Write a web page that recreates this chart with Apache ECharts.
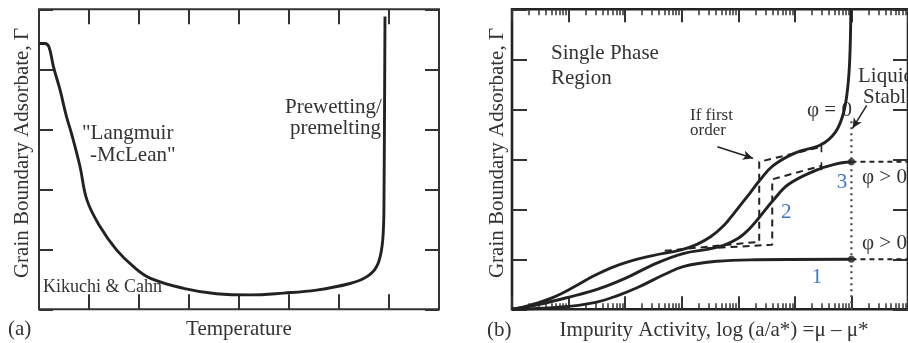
<!DOCTYPE html>
<html><head><meta charset="utf-8">
<script src="https://cdn.jsdelivr.net/npm/echarts@6/dist/echarts.min.js"></script>
<style>html,body{margin:0;padding:0;background:#fff}#c{width:908px;height:343px}</style>
</head><body><div id="c"></div>
<script>
// ---------- Panel (a): adsorbate vs temperature ----------
const tempRange = [0, 8];          // temperature axis (arbitrary units, ticks every 1)
const adsRangeA = [0, 5];          // adsorbate axis (a)
const langmuirCurve = [[0,4.43],[0.12,4.43],[0.2,4.37],[0.29,4.04],[0.42,3.66],[0.55,3.21],[0.65,2.93],[0.82,2.38],[0.96,1.82],[1.22,1.38],[1.55,0.99],[1.89,0.71],[2.22,0.52],[2.89,0.35],[3.55,0.26],[4.22,0.24],[4.89,0.27],[5.55,0.32],[6.22,0.43],[6.55,0.54],[6.75,0.71],[6.85,0.99],[6.89,1.38],[6.9,1.82],[6.92,4.88]];

// ---------- Panel (b): adsorbate vs log activity (decades) ----------
const decadeRange = [0, 7];
const adsRangeB = [0, 6];
const minorMultipliers = [2,3,4,5,6,7,8,9];
const phi0Curve = [[0,0],[0.31,0.08],[0.73,0.24],[1.1,0.45],[1.43,0.66],[1.75,0.83],[2.05,0.95],[2.47,1.07],[2.99,1.19],[3.27,1.3],[3.51,1.45],[3.74,1.67],[3.91,1.9],[4.21,2.33],[4.38,2.58],[4.61,2.87],[5.01,3.13],[5.46,3.29],[5.72,3.55],[5.86,3.93],[5.93,4.39],[5.97,4.99],[5.99,6.0]];
const curve3 = [[0,0],[0.49,0.1],[1.03,0.25],[1.53,0.41],[2.0,0.62],[2.57,0.93],[3.04,1.12],[3.45,1.2],[3.74,1.28],[4.0,1.42],[4.19,1.6],[4.38,1.85],[4.61,2.17],[4.89,2.5],[5.37,2.78],[5.7,2.9],[6.0,2.95]];
const curve1 = [[0,0],[0.83,0.04],[1.48,0.14],[1.88,0.28],[2.23,0.44],[2.7,0.7],[3.04,0.86],[3.62,0.96],[4.31,0.99],[6.0,1.0]];
const firstOrderA = [[2.7,1.17],[4.37,1.35],[4.37,2.95],[5.47,3.25]];
const firstOrderB = [[3.44,1.22],[4.6,1.29],[4.6,2.6],[5.47,2.87]];
const rejoinA = [[5.47,3.33],[5.47,3.14]];
const rejoinB = [[5.47,2.94],[5.47,2.78]];
const liquidBoundary = [[6,0],[6,3.78]];
const phiPosUpper = [[6,2.95],[7,2.95]];
const phiPosLower = [[6,1.0],[7,1.0]];
const endDots = [[6,2.95],[6,1.0]];
const arrowFirstOrder = [[3.63,3.25],[4.26,3.02]];
const arrowLiquid = [[6.27,4.08],[6.02,3.62]];

const minorTicks = [];
for (let d = decadeRange[0]; d < decadeRange[1]; d++) {
  minorMultipliers.forEach(m => minorTicks.push(+(d + Math.log10(m)).toFixed(4)));
}

const INK = '#222';
const BOX = '#333';
const TXT = '#333';
const BLUE = '#3b78c2';
const SERIF = '"Liberation Serif","Times New Roman",serif';

function xAx(grid, pos, range, len, width, custom) {
  const a = {
    type: 'value', gridIndex: grid, position: pos, min: range[0], max: range[1], interval: 1,
    axisLine: {show: false, onZero: false}, axisLabel: {show: false}, splitLine: {show: false},
    axisTick: {show: true, inside: true, length: len, lineStyle: {color: BOX, width: width}}
  };
  if (custom) a.axisTick.customValues = custom;
  return a;
}
function yAx(grid, pos, range, len, width) {
  return {
    type: 'value', gridIndex: grid, position: pos, min: range[0], max: range[1], interval: 1,
    axisLine: {show: false, onZero: false}, axisLabel: {show: false}, splitLine: {show: false},
    axisTick: {show: true, inside: true, length: len, lineStyle: {color: BOX, width: width}}
  };
}
function curve(data, xi, yi, extra) {
  return Object.assign({
    type: 'line', data: data, xAxisIndex: xi, yAxisIndex: yi, showSymbol: false, symbol: 'none',
    smooth: 0.4, silent: true, animation: false,
    lineStyle: {color: INK, width: 2.9}
  }, extra || {});
}
function seg(data, type, width, extra) {
  return Object.assign({
    type: 'line', data: data, xAxisIndex: 2, yAxisIndex: 2, showSymbol: false, symbol: 'none',
    silent: true, animation: false,
    lineStyle: {color: INK, width: width, type: type}
  }, extra || {});
}
function txt(x, y, s, size, opts) {
  return Object.assign({
    type: 'text', x: x, y: y, silent: true,
    style: Object.assign({text: s, font: size + 'px ' + SERIF, fill: TXT, align: 'left', verticalAlign: 'middle'}, (opts && opts.style) || {})
  }, opts && opts.rotation ? {rotation: opts.rotation} : {});
}

const chart = echarts.init(document.getElementById('c'), null, {renderer: 'canvas'});
chart.setOption({
  animation: false,
  backgroundColor: '#fff',
  grid: [
    {left: 39, top: 9.3, width: 400, height: 300, show: true, borderColor: BOX, borderWidth: 2, backgroundColor: 'transparent'},
    {left: 512, top: 9.3, width: 402.5, height: 300, show: true, borderColor: INK, borderWidth: 2.6, backgroundColor: 'transparent'}
  ],
  xAxis: [
    xAx(0, 'bottom', tempRange, 15, 2),
    xAx(0, 'top', tempRange, 15, 2),
    xAx(1, 'bottom', decadeRange, 13, 2),
    xAx(1, 'bottom', decadeRange, 6, 1.5, minorTicks),
    xAx(1, 'top', decadeRange, 13, 2),
    xAx(1, 'top', decadeRange, 6, 1.5, minorTicks)
  ],
  yAxis: [
    yAx(0, 'left', adsRangeA, 14, 2),
    yAx(0, 'right', adsRangeA, 14, 2),
    yAx(1, 'left', adsRangeB, 15, 2),
    yAx(1, 'right', adsRangeB, 15, 2)
  ],
  series: [
    curve(langmuirCurve, 0, 0),
    curve(phi0Curve, 2, 2),
    curve(curve3, 2, 2),
    curve(curve1, 2, 2),
    seg(firstOrderA, [7,5], 2),
    seg(firstOrderB, [7,5], 2),
    seg(rejoinA, 'solid', 1.6),
    seg(rejoinB, 'solid', 1.6),
    seg(liquidBoundary, [2,4], 2.2, {lineStyle: {color: '#444', width: 2.2, type: [2,4]}}),
    seg(phiPosUpper, [5,4], 2),
    seg(phiPosLower, [5,4], 2),
    {type: 'scatter', data: endDots, xAxisIndex: 2, yAxisIndex: 2, symbolSize: 7, itemStyle: {color: INK}, silent: true, animation: false},
    {type: 'line', data: [], xAxisIndex: 2, yAxisIndex: 2, silent: true, animation: false,
     markLine: {silent: true, animation: false, symbol: ['none', 'arrow'], symbolSize: [7, 10], label: {show: false},
       data: [
         [{coord: arrowFirstOrder[0], lineStyle: {color: INK, width: 1.5, type: 'solid'}}, {coord: arrowFirstOrder[1]}],
         [{coord: arrowLiquid[0], lineStyle: {color: INK, width: 1.5, type: 'solid', curveness: -0.35}}, {coord: arrowLiquid[1]}]
       ]}}
  ],
  graphic: [
    txt(8, 329, '(a)', 21),
    txt(239, 329, 'Temperature', 21, {style: {align: 'center'}}),
    txt(22, 153, 'Grain Boundary Adsorbate, Γ', 21, {rotation: Math.PI / 2, style: {align: 'center'}}),
    txt(82, 133, '"Langmuir', 21),
    txt(90, 155, '-McLean"', 21),
    txt(285, 107, 'Prewetting/', 21),
    txt(290, 128, 'premelting', 21),
    txt(43, 287, 'Kikuchi & Cahn', 18),
    txt(487, 330, '(b)', 21),
    txt(714, 330, 'Impurity Activity, log (a/a*) =μ – μ*', 21, {style: {align: 'center'}}),
    txt(497, 153, 'Grain Boundary Adsorbate, Γ', 21, {rotation: Math.PI / 2, style: {align: 'center'}}),
    txt(551, 53, 'Single Phase', 21),
    txt(551, 78, 'Region', 21),
    txt(690, 116, 'If first', 17),
    txt(690, 131, 'order', 17),
    txt(807, 110, 'φ = 0', 21),
    txt(858, 76, 'Liquid', 21),
    txt(863, 97, 'Stable', 21),
    txt(862, 177, 'φ > 0', 21),
    txt(862, 243, 'φ > 0', 21),
    txt(842, 182, '3', 21, {style: {align: 'center', fill: BLUE}}),
    txt(781, 212, '2', 21, {style: {fill: BLUE}}),
    txt(817, 277, '1', 21, {style: {align: 'center', fill: BLUE}})
  ]
});
</script></body></html>
